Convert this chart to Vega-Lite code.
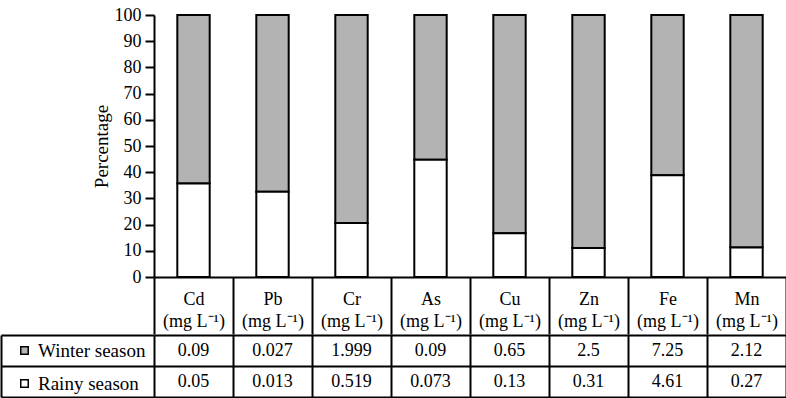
{
  "$schema": "https://vega.github.io/schema/vega-lite/v6.json",
  "padding": {"left": 0, "top": 6, "right": 0, "bottom": 0},
  "autosize": {"type": "pad"},
  "spacing": -3,
  "data": {
    "values": [
      {"element": "Cd", "season": "Winter season", "value": 0.09},
      {"element": "Cd", "season": "Rainy season", "value": 0.05},
      {"element": "Pb", "season": "Winter season", "value": 0.027},
      {"element": "Pb", "season": "Rainy season", "value": 0.013},
      {"element": "Cr", "season": "Winter season", "value": 1.999},
      {"element": "Cr", "season": "Rainy season", "value": 0.519},
      {"element": "As", "season": "Winter season", "value": 0.09},
      {"element": "As", "season": "Rainy season", "value": 0.073},
      {"element": "Cu", "season": "Winter season", "value": 0.65},
      {"element": "Cu", "season": "Rainy season", "value": 0.13},
      {"element": "Zn", "season": "Winter season", "value": 2.5},
      {"element": "Zn", "season": "Rainy season", "value": 0.31},
      {"element": "Fe", "season": "Winter season", "value": 7.25},
      {"element": "Fe", "season": "Rainy season", "value": 4.61},
      {"element": "Mn", "season": "Winter season", "value": 2.12},
      {"element": "Mn", "season": "Rainy season", "value": 0.27}
    ]
  },
  "vconcat": [
    {
      "width": 632,
      "height": 262,
      "mark": {"type": "bar", "width": {"band": 0.41}, "stroke": "black", "strokeWidth": 2},
      "encoding": {
        "x": {
          "field": "element",
          "type": "nominal",
          "sort": ["Cd", "Pb", "Cr", "As", "Cu", "Zn", "Fe", "Mn"],
          "scale": {"paddingInner": 0, "paddingOuter": 0},
          "axis": {
            "title": null,
            "labelAngle": 0,
            "tickBand": "extent",
            "tickSize": 57,
            "tickWidth": 2,
            "domainWidth": 2,
            "labelPadding": -44,
            "labelBaseline": "top",
            "labelLineHeight": 22,
            "labelFontSize": 18,
            "labelExpr": "datum.label ? [datum.label, '(mg L⁻¹)'] : ''"
          }
        },
        "y": {
          "field": "value",
          "type": "quantitative",
          "stack": "normalize",
          "axis": {
            "title": "Percentage",
            "titleFontSize": 19,
            "titleFontWeight": "normal",
            "titlePadding": 3,
            "values": [0, 0.1, 0.2, 0.3, 0.4, 0.5, 0.6, 0.7, 0.8, 0.9, 1],
            "labelExpr": "round(datum.value * 100)",
            "labelFontSize": 18,
            "labelPadding": 4,
            "tickSize": 9,
            "tickWidth": 2,
            "domainWidth": 2,
            "grid": false
          }
        },
        "fill": {
          "field": "season",
          "type": "nominal",
          "scale": {"domain": ["Winter season", "Rainy season"], "range": ["#b3b3b3", "#ffffff"]},
          "legend": {
            "orient": "none",
            "legendX": -139,
            "legendY": 326,
            "title": null,
            "padding": 0,
            "symbolType": "square",
            "symbolSize": 56,
            "symbolStrokeColor": "black",
            "symbolStrokeWidth": 1.5,
            "labelFont": "Liberation Serif",
            "labelFontSize": 19,
            "labelColor": "black",
            "labelOffset": 4,
            "rowPadding": 13
          }
        },
        "order": {"field": "season", "sort": "ascending"}
      }
    },
    {
      "width": 632,
      "height": 62,
      "mark": {"type": "text", "font": "Liberation Serif", "fontSize": 18, "color": "black"},
      "encoding": {
        "x": {
          "field": "element",
          "type": "nominal",
          "sort": ["Cd", "Pb", "Cr", "As", "Cu", "Zn", "Fe", "Mn"],
          "axis": {
            "title": null,
            "labels": false,
            "ticks": false,
            "domain": false,
            "grid": true,
            "tickBand": "extent",
            "gridColor": "black",
            "gridWidth": 2,
            "gridOpacity": 1
          }
        },
        "y": {
          "field": "season",
          "type": "nominal",
          "sort": ["Winter season", "Rainy season"],
          "axis": {
            "title": null,
            "orient": "left",
            "offset": 153,
            "labels": false,
            "domain": true,
            "domainWidth": 2,
            "ticks": true,
            "tickSize": -153,
            "tickWidth": 2,
            "tickBand": "extent",
            "grid": true,
            "gridColor": "black",
            "gridWidth": 2,
            "gridOpacity": 1
          }
        },
        "text": {"field": "value", "type": "nominal"}
      }
    }
  ],
  "config": {
    "view": {"stroke": null},
    "font": "Liberation Serif",
    "axis": {
      "labelFont": "Liberation Serif",
      "titleFont": "Liberation Serif",
      "labelColor": "black",
      "titleColor": "black",
      "domainColor": "black",
      "tickColor": "black"
    }
  }
}
